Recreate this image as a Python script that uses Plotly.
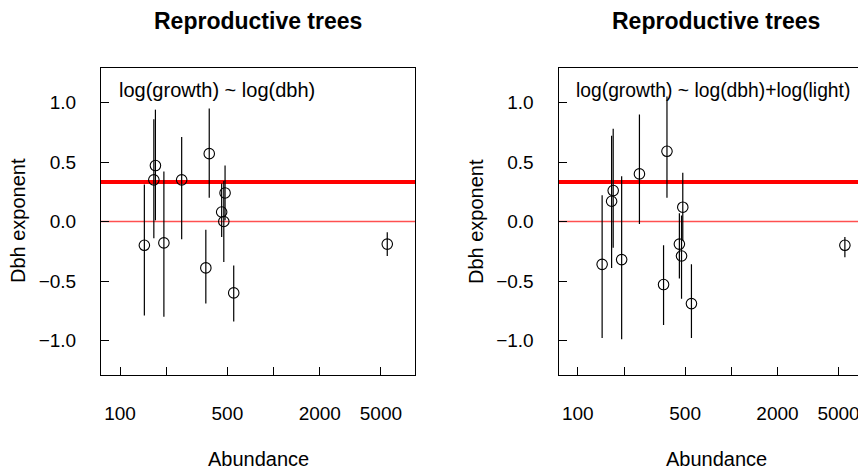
import plotly.graph_objects as go

# Abundancia por especie (mismo orden en ambos paneles)
abundance = [144, 170, 166, 193, 252, 381, 362, 483, 459, 474, 550, 5500]

# Panel izquierdo: log(growth) ~ log(dbh)
dbh_exp = [-0.20, 0.47, 0.35, -0.18, 0.35, 0.57, -0.39, 0.24, 0.08, 0.00, -0.60, -0.19]
dbh_upper = [0.31, 0.94, 0.86, 0.42, 0.71, 0.95, -0.07, 0.47, 0.32, 0.34, -0.37, -0.09]
dbh_lower = [-0.79, 0.01, -0.14, -0.80, -0.15, 0.20, -0.69, 0.01, -0.13, -0.34, -0.84, -0.29]

# Panel derecho: log(growth) ~ log(dbh)+log(light)
light_exp = [-0.36, 0.26, 0.17, -0.32, 0.40, 0.59, -0.53, 0.12, -0.19, -0.29, -0.69, -0.20]
light_upper = [0.22, 0.78, 0.72, 0.38, 0.90, 1.05, -0.20, 0.41, 0.07, 0.05, -0.36, -0.13]
light_lower = [-0.98, -0.22, -0.39, -0.99, -0.02, 0.20, -0.87, -0.16, -0.48, -0.65, -0.98, -0.30]

x_tickvals = [100, 200, 500, 1000, 2000, 5000]
x_ticktext = ["100", "", "500", "", "2000", "5000"]
y_tickvals = [-1.0, -0.5, 0.0, 0.5, 1.0]
ref_slope = 0.333

FONT = "Liberation Sans, Arial, sans-serif"
# la pagina tiene 8px de margen en el body: se descuentan del tamaño
OFF = 8
W, H = 866 - OFF, 472 - OFF


def px_x(p):
    return (p - OFF) / W


def px_y(p):
    return 1 - (p - OFF) / H


def panel_trace(y, upper, lower, xa, ya):
    return go.Scatter(
        x=abundance, y=y, xaxis=xa, yaxis=ya,
        mode="markers",
        marker=dict(symbol="circle-open", size=10.5, color="black", line=dict(width=1.1)),
        error_y=dict(
            type="data", symmetric=False,
            array=[u - v for u, v in zip(upper, y)],
            arrayminus=[v - l for v, l in zip(y, lower)],
            width=0, thickness=1.2, color="black",
        ),
        showlegend=False, hoverinfo="skip",
    )


fig = go.Figure()
fig.add_trace(panel_trace(dbh_exp, dbh_upper, dbh_lower, "x", "y"))
fig.add_trace(panel_trace(light_exp, light_upper, light_lower, "x2", "y2"))

xaxis_common = dict(
    type="log", tickvals=x_tickvals, ticktext=x_ticktext,
    ticks="inside", ticklen=8, tickcolor="black",
    showline=True, linecolor="black", linewidth=1,
    showgrid=False, zeroline=False, ticklabelstandoff=21,
    tickfont=dict(family=FONT, size=19, color="black"),
)
yaxis_common = dict(
    range=[-1.29, 1.29], tickvals=y_tickvals, tickformat=".1f",
    ticks="inside", ticklen=8, tickcolor="black",
    showline=True, linecolor="black", linewidth=1,
    showgrid=False, zeroline=False, ticklabelstandoff=20,
    tickfont=dict(family=FONT, size=19, color="black"),
    domain=[px_y(375), px_y(68)],
)

fig.update_layout(
    width=W, height=H,
    margin=dict(l=0, r=0, t=0, b=0),
    paper_bgcolor="white", plot_bgcolor="white",
    xaxis=dict(xaxis_common, domain=[px_x(101), px_x(415)], range=[1.876, 3.921], anchor="y", mirror=True),
    yaxis=dict(yaxis_common, anchor="x", mirror=True),
    xaxis2=dict(xaxis_common, domain=[px_x(558.5), 1.0], range=[1.874, 3.878], anchor="y2", mirror=True),
    yaxis2=dict(yaxis_common, anchor="x2", mirror=False),
)

# lineas de referencia: pendiente teorica (gruesa) y cero (fina)
for xa, ya in [("x", "y"), ("x2", "y2")]:
    fig.add_shape(type="line", xref=f"{xa} domain", yref=ya, x0=0, x1=1, y0=ref_slope, y1=ref_slope,
                  line=dict(color="red", width=4), layer="below")
    fig.add_shape(type="line", xref=f"{xa} domain", yref=ya, x0=0, x1=1, y0=0, y1=0,
                  line=dict(color="rgb(255,80,80)", width=1.5), layer="below")

annotations = [
    (258, 21, "<b>Reproductive trees</b>", 23, "center", 0),
    (716, 21, "<b>Reproductive trees</b>", 23, "center", 0),
    (117, 90, "log(growth) ~ log(dbh)", 20, "left", 0),
    (574, 90, "log(growth) ~ log(dbh)+log(light)", 19.3, "left", 0),
    (258, 459, "Abundance", 20, "center", 0),
    (716, 459, "Abundance", 20, "center", 0),
    (18, 221, "Dbh exponent", 20, "center", -90),
    (476, 221, "Dbh exponent", 20, "center", -90),
]
for x, y, text, size, anchor, angle in annotations:
    fig.add_annotation(
        x=px_x(x), y=px_y(y), xref="paper", yref="paper",
        text=text, showarrow=False, xanchor=anchor, yanchor="middle",
        textangle=angle, font=dict(family=FONT, size=size, color="black"),
    )

fig.write_html("out.html")
